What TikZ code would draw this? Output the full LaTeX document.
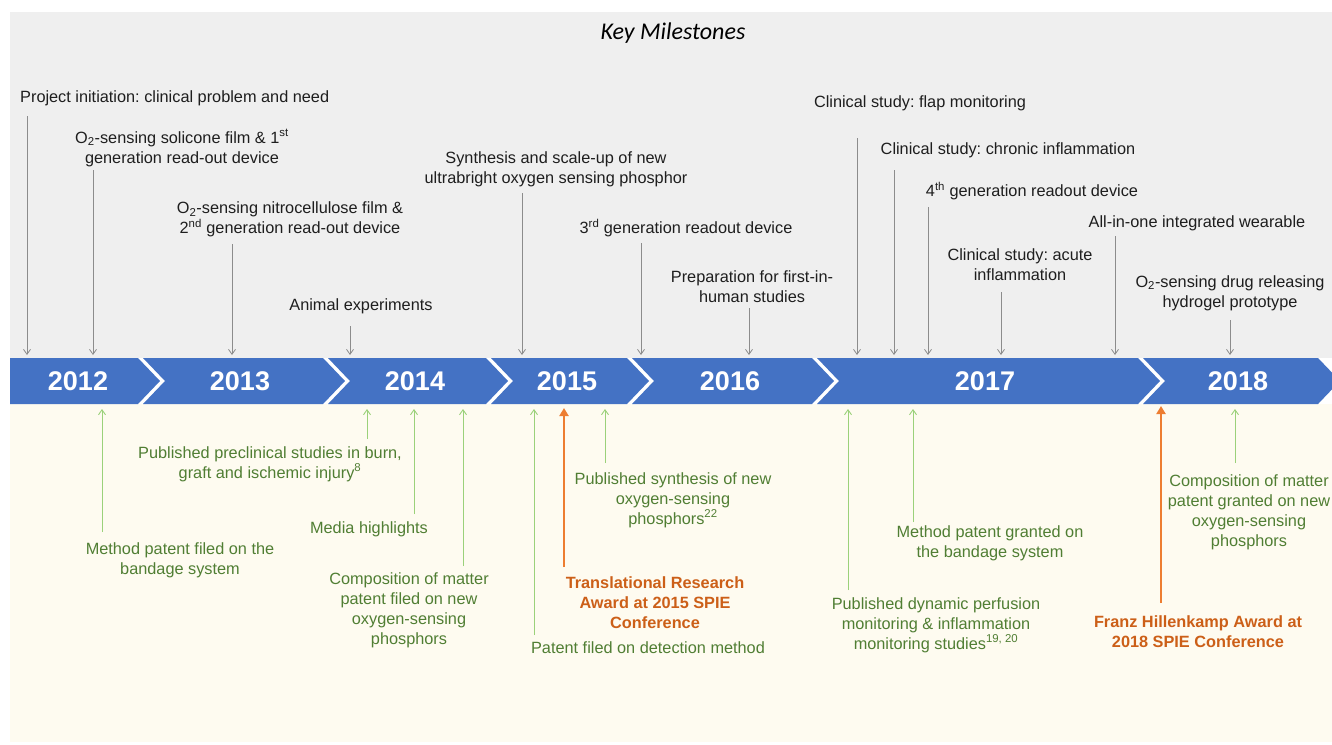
\documentclass[tikz,border=0pt]{standalone}
\usepackage{fontspec}
\setmainfont{Liberation Sans}
\newfontfamily\titlefont{Carlito}
\usetikzlibrary{arrows.meta}
\frenchspacing
\definecolor{graybg}{HTML}{EFEFEF}
\definecolor{creambg}{HTML}{FEFBF0}
\definecolor{bannerblue}{HTML}{4472C4}
\definecolor{arrowgray}{HTML}{8C8C8C}
\definecolor{textblack}{HTML}{1E1E1E}
\definecolor{greentext}{HTML}{507E33}
\definecolor{greenarrow}{HTML}{9BD17A}
\definecolor{orangearrow}{HTML}{ED7D31}
\definecolor{orangetext}{HTML}{CC5F18}
\tikzset{
  lbl/.style={inner sep=0pt, align=center, text=textblack, font=\fontsize{16.3}{20}\selectfont},
  glbl/.style={lbl, text=greentext},
  olbl/.style={lbl, text=orangetext, font=\fontsize{16.3}{20}\selectfont\bfseries},
  yearlbl/.style={inner sep=0pt, text=white, font=\fontsize{27}{30}\selectfont\bfseries},
  garrow/.style={draw=arrowgray, line width=0.8pt, -{Straight Barb[length=5pt,width=7pt]}},
  grarrow/.style={draw=greenarrow, line width=0.9pt, -{Straight Barb[length=5pt,width=7pt]}},
  oarrow/.style={draw=orangearrow, line width=2.8pt, -{Triangle[length=8pt,width=9pt]}},
  chev/.style={fill=bannerblue}
}
\begin{document}
\begin{tikzpicture}[x=1pt,y=-1pt]
\useasboundingbox (0,0) rectangle (1332,744);
\begin{scope}
\clip (0,0) rectangle (1332,744);
\fill[white] (0,0) rectangle (1332,744);
\fill[graybg] (10,12) rectangle (1332,358);
\fill[creambg] (10,404) rectangle (1332,742);
% banner chevrons
\fill[chev] (10,358) -- (138,358) -- (160,381) -- (138,404) -- (10,404) -- cycle;
\fill[chev] (143,358) -- (323,358) -- (345,381) -- (323,404) -- (143,404) -- (165,381) -- cycle;
\fill[chev] (328,358) -- (486,358) -- (508,381) -- (486,404) -- (328,404) -- (350,381) -- cycle;
\fill[chev] (491,358) -- (627,358) -- (649,381) -- (627,404) -- (491,404) -- (513,381) -- cycle;
\fill[chev] (632,358) -- (812,358) -- (834,381) -- (812,404) -- (632,404) -- (654,381) -- cycle;
\fill[chev] (817,358) -- (1138,358) -- (1160,381) -- (1138,404) -- (817,404) -- (839,381) -- cycle;
\fill[chev] (1143,358) -- (1318,358) -- (1340,381) -- (1318,404) -- (1143,404) -- (1165,381) -- cycle;
\end{scope}

% title
\node[inner sep=0pt, font=\titlefont\itshape\fontsize{24}{28}\selectfont, text=black] (title) at (673,33) {Key Milestones};

% years
\node[yearlbl] (y2012) at (78,381) {2012};
\node[yearlbl] (y2013) at (240,381) {2013};
\node[yearlbl] (y2014) at (415,381) {2014};
\node[yearlbl] (y2015) at (567,381) {2015};
\node[yearlbl] (y2016) at (730,381) {2016};
\node[yearlbl] (y2017) at (985,381) {2017};
\node[yearlbl] (y2018) at (1238,381) {2018};

% top labels
\node[lbl, anchor=west] (t1) at (20,98) {Project initiation: clinical problem and need};
\node[lbl] (t2) at (182,148) {O\textsubscript{2}-sensing solicone film \& 1\textsuperscript{st}\\generation read-out device};
\node[lbl] (t3) at (290,219.5) {O\textsubscript{2}-sensing nitrocellulose film \&\\2\textsuperscript{nd} generation read-out device};
\node[lbl] (t4) at (361,306) {Animal experiments};
\node[lbl] (t5) at (556,169) {Synthesis and scale-up of new\\ultrabright oxygen sensing phosphor};
\node[lbl] (t6) at (686,228) {3\textsuperscript{rd} generation readout device};
\node[lbl] (t7) at (752,287) {Preparation for first-in-\\human studies};
\node[lbl] (t8) at (920,103) {Clinical study: flap monitoring};
\node[lbl] (t9) at (1008,150) {Clinical study: chronic inflammation};
\node[lbl] (t10) at (1032,191) {4\textsuperscript{th} generation readout device};
\node[lbl] (t11) at (1197,223) {All-in-one integrated wearable};
\node[lbl] (t12) at (1020,265) {Clinical study: acute\\inflammation};
\node[lbl] (t13) at (1230,293) {O\textsubscript{2}-sensing drug releasing\\hydrogel prototype};

% top gray arrows
\foreach \n/\x/\ys in {1/27/116, 2/93/170, 3/232/244, 4/350/326, 5/522/193, 6/641/243, 7/749/308,
  8/857/138, 9/894/170, 10/928/207, 11/1001/292, 12/1115/236, 13/1230/320}{
  \coordinate (ga\n) at (\x,\ys);
  \coordinate (gb\n) at (\x,355);
  \draw[garrow] (ga\n) -- (gb\n);
}

% bottom labels
\node[glbl] (b1) at (180,560) {Method patent filed on the\\bandage system};
\node[glbl] (b2) at (270,464) {Published preclinical studies in burn,\\graft and ischemic injury\textsuperscript{8}};
\node[glbl] (b3) at (369,529) {Media highlights};
\node[glbl] (b4) at (409,610) {Composition of matter\\patent filed on new\\oxygen-sensing\\phosphors};
\node[glbl] (b5) at (648,648) {Patent filed on detection method};
\node[glbl] (b6) at (673,500) {Published synthesis of new\\oxygen-sensing\\phosphors\textsuperscript{22}};
\node[glbl] (b7) at (936,625) {Published dynamic perfusion\\monitoring \& inflammation\\monitoring studies\textsuperscript{19, 20}};
\node[glbl] (b8) at (990,543) {Method patent granted on\\the bandage system};
\node[glbl] (b9) at (1249,512) {Composition of matter\\patent granted on new\\oxygen-sensing\\phosphors};
\node[olbl] (o1) at (655,603) {Translational Research\\Award at 2015 SPIE\\Conference};
\node[olbl] (o2) at (1198,632) {Franz Hillenkamp Award at\\2018 SPIE Conference};

% bottom green arrows
\foreach \n/\x/\ys in {1/102/532, 2/367/439, 3/414/514, 4/463/566, 5/534/635, 6/605/463,
  7/848/590, 8/913/522, 9/1235/463}{
  \coordinate (gs\n) at (\x,\ys);
  \coordinate (ge\n) at (\x,409);
  \draw[grarrow] (gs\n) -- (ge\n);
}
% orange arrows
\coordinate (os1) at (564,567);
\coordinate (oe1) at (564,408);
\draw[oarrow] (os1) -- (oe1);
\coordinate (os2) at (1161,603);
\coordinate (oe2) at (1161,406);
\draw[oarrow] (os2) -- (oe2);
\end{tikzpicture}
\end{document}
